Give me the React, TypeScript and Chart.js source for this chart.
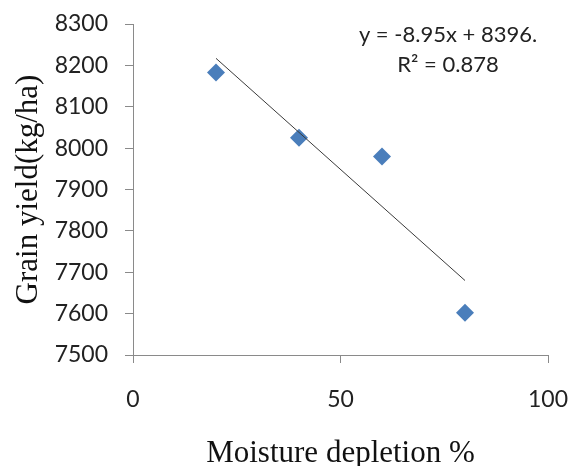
import React, { useEffect, useRef } from "react";
import { Chart, registerables } from "chart.js";

Chart.register(...registerables);

const moisture = [20, 40, 60, 80];
const grainYield = [8183, 8025, 7980, 7602];
const trendX = [20, 80];
const trendY = [8217, 7680];
const equationLines = ["y = -8.95x + 8396.", "R\u00B2 = 0.878"];
const xTitle = "Moisture depletion %";
const yTitle = "Grain yield(kg/ha)";

const equationPlugin = {
  id: "equation",
  afterDraw(chart: any) {
    const { ctx, chartArea } = chart;
    ctx.save();
    ctx.font = "22px Lato";
    ctx.fillStyle = "#222";
    ctx.textAlign = "center";
    ctx.textBaseline = "middle";
    const cx = chartArea.right - 100;
    equationLines.forEach((t, i) => {
      ctx.fillText(t, cx, chartArea.top + 11 + i * 30);
    });
    ctx.restore();
  },
};

export default function App() {
  const ref = useRef<HTMLCanvasElement | null>(null);
  useEffect(() => {
    if (!ref.current) return;
    const axisColor = "#8a8a8a";
    const chart = new Chart(ref.current, {
      type: "scatter",
      data: {
        datasets: [
          {
            label: "yield",
            data: moisture.map((x, i) => ({ x, y: grainYield[i] })),
            pointStyle: "rectRot",
            pointRadius: 9,
            pointHoverRadius: 9,
            backgroundColor: "#4a7ebb",
            borderColor: "#4a7ebb",
            borderWidth: 0,
            order: 1,
          },
          {
            type: "line",
            label: "trend",
            data: trendX.map((x, i) => ({ x, y: trendY[i] })),
            borderColor: "#3a3a3a",
            borderWidth: 1,
            pointRadius: 0,
            showLine: true,
            fill: false,
            order: 0,
          } as any,
        ],
      },
      options: {
        responsive: false,
        animation: false,
        events: [],
        layout: { padding: { top: 24, right: 22, left: 0, bottom: 0 } },
        plugins: { legend: { display: false }, tooltip: { enabled: false } },
        scales: {
          x: {
            type: "linear",
            min: 0,
            max: 100,
            ticks: {
              stepSize: 50,
              padding: 23,
              color: "#222",
              font: { family: "Lato", size: 23 },
              callback: (v: any) => String(v),
            },
            grid: { drawOnChartArea: false, tickLength: 8, color: axisColor },
            border: { color: axisColor },
            title: {
              display: true,
              text: xTitle,
              color: "#111",
              font: { family: "Liberation Serif", size: 31, lineHeight: 1 },
              padding: { top: 0, bottom: -3 },
            },
            afterFit(scale: any) {
              scale.height = 111;
              scale.paddingLeft = 0;
              scale.paddingRight = 0;
            },
          },
          y: {
            type: "linear",
            min: 7500,
            max: 8300,
            ticks: {
              stepSize: 100,
              padding: 17,
              color: "#222",
              font: { family: "Lato", size: 23 },
              callback: (v: any) => String(v),
            },
            grid: { drawOnChartArea: false, tickLength: 8, color: axisColor },
            border: { color: axisColor },
            title: {
              display: true,
              text: yTitle,
              color: "#111",
              font: { family: "Liberation Serif", size: 31, lineHeight: 1 },
              padding: { top: 13, bottom: 0 },
            },
            afterFit(scale: any) {
              scale.width = 133;
              scale.paddingTop = 0;
              scale.paddingBottom = 0;
            },
          },
        },
      },
      plugins: [equationPlugin],
    });
    return () => chart.destroy();
  }, []);
  return (
    <div style={{ position: "fixed", left: 0, top: 0, width: 570, height: 466, background: "#fff" }}>
      <canvas ref={ref} width={570} height={466} />
    </div>
  );
}
